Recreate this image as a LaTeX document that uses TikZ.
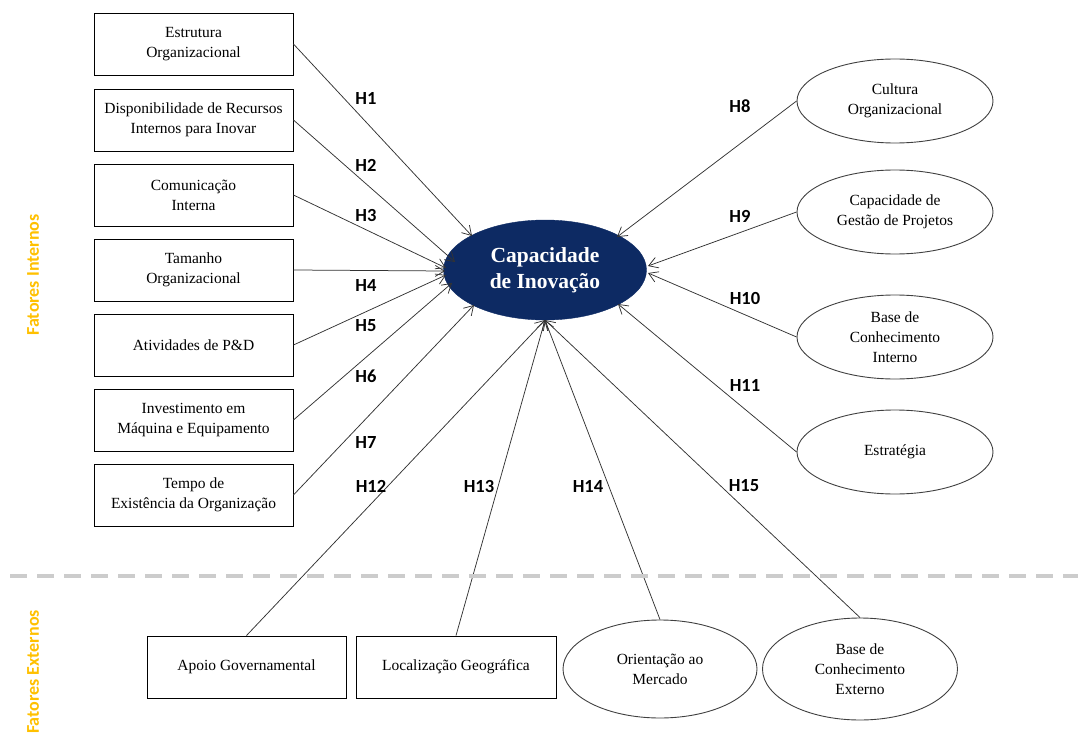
\documentclass[tikz,border=0pt]{standalone}
\usepackage{fontspec}
\setmainfont{Liberation Serif}
\newfontfamily\calib{Carlito}
\usetikzlibrary{arrows.meta,shapes.geometric}
\definecolor{navy}{HTML}{0D2A63}
\definecolor{gold}{HTML}{FFC000}
\begin{document}
\begin{tikzpicture}[x=1pt,y=-1pt,
  factor/.style={draw=black,line width=0.9pt,minimum width=199pt,minimum height=62pt,
    align=center,font=\fontsize{15.5}{20}\selectfont,inner sep=2pt},
  ovalf/.style={draw=black!75,line width=0.9pt,ellipse,minimum width=196pt,minimum height=84pt,
    align=center,font=\fontsize{15.5}{20}\selectfont,inner sep=0pt},
  link/.style={draw=black!80,line width=0.75pt,-{Straight Barb[length=9pt,width=11pt]}},
  hyp/.style={font=\calib\bfseries\fontsize{18.5}{20}\selectfont},
  group/.style={text=gold,font=\calib\bfseries\fontsize{18}{20}\selectfont,rotate=90}]
\useasboundingbox (0,0) rectangle (1085,733);

% centre construct
\node[ellipse,fill=navy,draw=navy,minimum width=203pt,minimum height=100pt,inner sep=0pt,
  text=white,align=center,font=\bfseries\fontsize{21.5}{26}\selectfont] (ci) at (545,270)
  {Capacidade\\de Inovação};

% internal factors (boxes)
\node[factor] (b1) at (193.5,44) {Estrutura\\Organizacional};
\node[factor] (b2) at (193.5,120) {Disponibilidade de Recursos\\Internos para Inovar};
\node[factor] (b3) at (193.5,195) {Comunicação\\Interna};
\node[factor] (b4) at (193.5,270) {Tamanho\\Organizacional};
\node[factor] (b5) at (193.5,345) {Atividades de P\&D};
\node[factor] (b6) at (193.5,420) {Investimento em\\Máquina e Equipamento};
\node[factor] (b7) at (193.5,495) {Tempo de\\Existência da Organização};

% internal factors (ovals)
\node[ovalf] (e8) at (895,101) {Cultura\\Organizacional};
\node[ovalf] (e9) at (895,212) {Capacidade de\\Gestão de Projetos};
\node[ovalf] (e10) at (895,337) {Base de\\Conhecimento\\Interno};
\node[ovalf] (e11) at (895,452) {Estratégia};

% external factors
\node[factor] (b12) at (246.5,667) {Apoio Governamental};
\node[factor,minimum width=200pt] (b13) at (456,667) {Localização Geográfica};
\node[ovalf,minimum height=98pt,minimum width=194pt] (e14) at (660,669) {Orientação ao\\Mercado};
\node[ovalf,minimum height=102pt,minimum width=195pt] (e15) at (860,669) {Base de\\Conhecimento\\Externo};

% end points on the centre construct
\coordinate (t1) at (472,236);
\coordinate (t2) at (455,262);
\coordinate (t3) at (446,268);
\coordinate (t4) at (445,271);
\coordinate (t5) at (446,275);
\coordinate (t6) at (452,283);
\coordinate (t7) at (474,305);
\coordinate (t8) at (617,237);
\coordinate (t9) at (648,266);
\coordinate (t10) at (648,273);
\coordinate (t11) at (618,304);
\coordinate (tb) at (545,320);

\draw[link] (b1.east) -- (t1);
\draw[link] (b2.east) -- (t2);
\draw[link] (b3.east) -- (t3);
\draw[link] (b4.east) -- (t4);
\draw[link] (b5.east) -- (t5);
\draw[link] (b6.east) -- (t6);
\draw[link] (b7.east) -- (t7);
\draw[link] (e8.west) -- (t8);
\draw[link] (e9.west) -- (t9);
\draw[link] (e10.west) -- (t10);
\draw[link] (e11.west) -- (t11);
\draw[link] (b12.north) -- (tb);
\draw[link] (b13.north) -- (tb);
\draw[link] (e14.north) -- (tb);
\draw[link] (e15.north) -- (tb);

% hypothesis labels
\node[hyp] (h1) at (366,98) {H1};
\node[hyp] (h2) at (366,165) {H2};
\node[hyp] (h3) at (366,215) {H3};
\node[hyp] (h4) at (366,285) {H4};
\node[hyp] (h5) at (366,326) {H5};
\node[hyp] (h6) at (366,376) {H6};
\node[hyp] (h7) at (366,442) {H7};
\node[hyp] (h8) at (740,106) {H8};
\node[hyp] (h9) at (740,216) {H9};
\node[hyp] (h10) at (745,298) {H10};
\node[hyp] (h11) at (745,385) {H11};
\node[hyp] (h12) at (371,486) {H12};
\node[hyp] (h13) at (479,486) {H13};
\node[hyp] (h14) at (588,486) {H14};
\node[hyp] (h15) at (744,486) {H15};

% internal / external divide
\coordinate (d0) at (10,576);
\coordinate (d1) at (1078,576);
\draw[black!20,line width=3.5pt,dash pattern=on 17pt off 10pt] (d0) -- (d1);

\node[group] (gi) at (33,275) {Fatores Internos};
\node[group] (ge) at (33,672) {Fatores Externos};
\end{tikzpicture}
\end{document}
